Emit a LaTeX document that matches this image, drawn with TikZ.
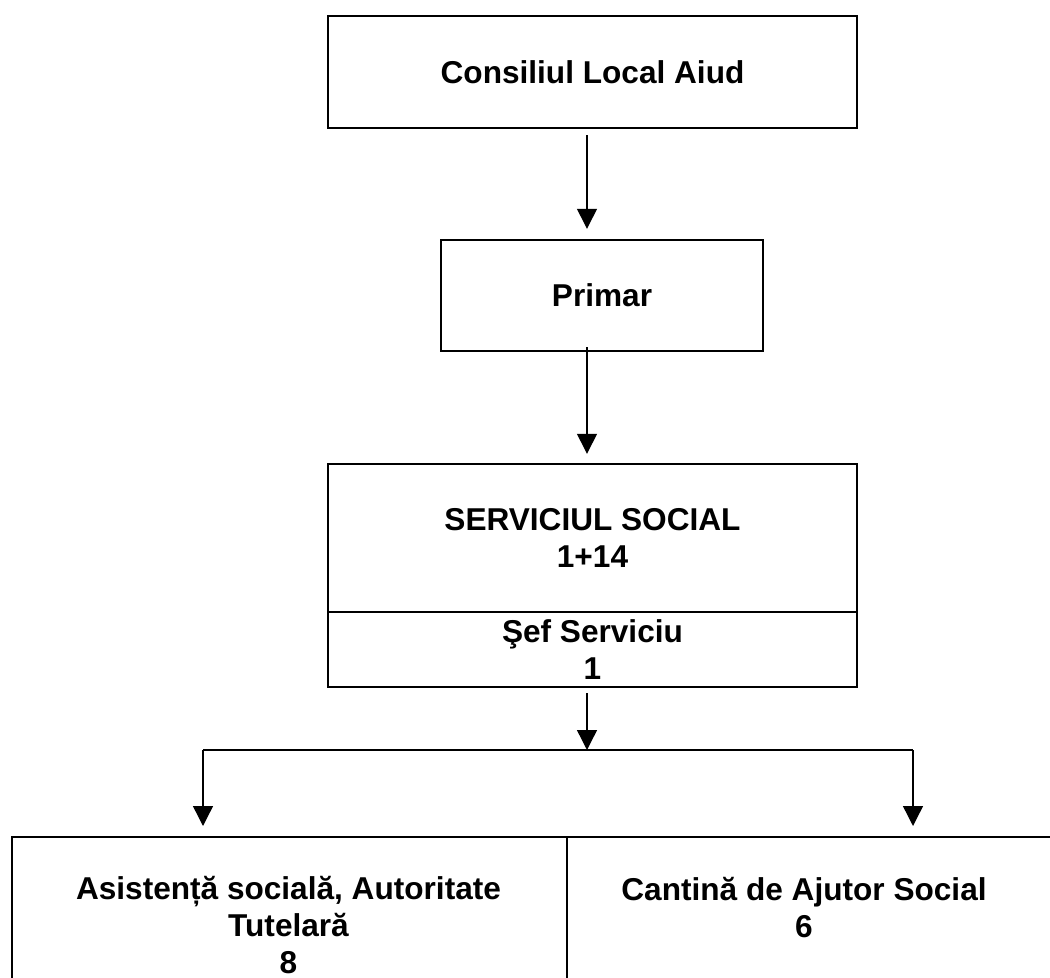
\documentclass[tikz,border=0pt]{standalone}
\usepackage{fontspec}
\setmainfont{Liberation Sans}
\usetikzlibrary{arrows.meta}

\tikzset{
  unit/.style={draw,line width=1.2pt,inner sep=0pt},
  caption/.style={align=center,inner sep=0pt,font=\fontsize{15.8}{18.5}\selectfont\bfseries},
  link/.style={line width=0.7pt,-{Triangle[width=10pt,length=10pt]}}
}

\begin{document}
\begin{tikzpicture}[x=0.5pt,y=-0.5pt]
  \useasboundingbox (0,0) rectangle (1050,978);
  \path[clip] (0,0) rectangle (1050,978);

  \node[unit,caption,minimum width=264.5pt,minimum height=56pt] (council) at (592.5,72) {Consiliul Local Aiud};
  \node[unit,caption,minimum width=161pt,minimum height=55.5pt] (mayor) at (602,295.5) {Primar};
  \node[unit,caption,minimum width=264.5pt,minimum height=74pt] (head) at (592.5,538) {SERVICIUL SOCIAL\\1+14};
  \node[unit,caption,minimum width=264.5pt,minimum height=37.5pt] (chief) at (592.5,649.5) {Şef Serviciu\\1};

  \node[unit,anchor=north west,minimum width=277.5pt,minimum height=100pt] (welfare) at (11,836) {};
  \node[unit,anchor=north west,minimum width=260pt,minimum height=100pt] (canteen) at (566,836) {};
  \node[caption] (welfaretxt) at (288.5,925) {Asistență socială, Autoritate\\Tutelară\\8};
  \node[caption] (canteentxt) at (804,908) {Cantină de Ajutor Social\\6};

  \coordinate (spine) at (587,0);
  \coordinate (fork) at (587,750);
  \coordinate (forkL) at (203,750);
  \coordinate (forkR) at (913,750);

  \draw[link,shorten <=3pt,shorten >=5pt] (council.south -| spine) -- (mayor.north -| spine);
  \draw[link,shorten <=-2.5pt,shorten >=4.5pt] (mayor.south -| spine) -- (head.north -| spine);
  \draw[link,shorten <=2.5pt] (chief.south -| spine) -- (fork);
  \draw[line width=0.7pt] (forkL) -- (forkR);
  \draw[link,shorten >=5pt] (forkL) -- (welfare.north -| forkL);
  \draw[link,shorten >=5pt] (forkR) -- (canteen.north -| forkR);
\end{tikzpicture}
\end{document}
